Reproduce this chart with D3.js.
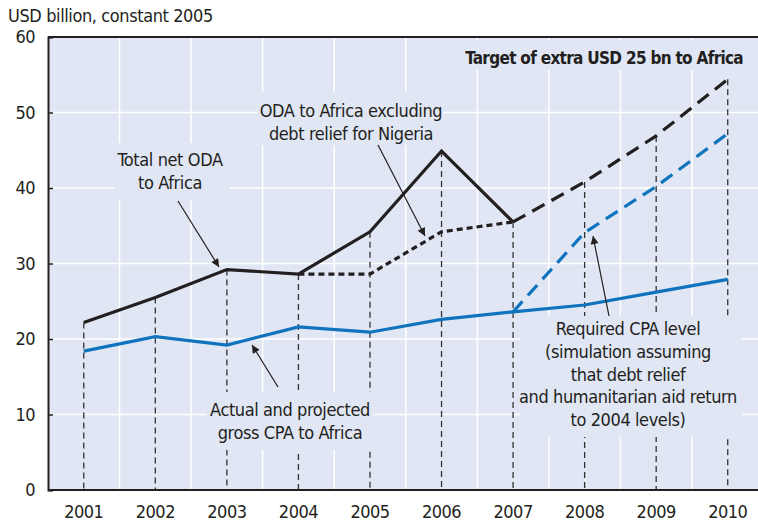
<!DOCTYPE html>
<html>
<head>
<meta charset="utf-8">
<script src="https://cdn.jsdelivr.net/npm/d3@7"></script>
<style>
    body { margin: 0; background: #fff; }
    svg text { font-family: "DejaVu Sans Condensed", "Liberation Sans Narrow", sans-serif; fill: #231f20; letter-spacing: -0.4px; }
</style>
</head>
<body>
<div id="chart"></div>
<script>
const years = [2001, 2002, 2003, 2004, 2005, 2006, 2007, 2008, 2009, 2010];
const yTicks = [0, 10, 20, 30, 40, 50, 60];

// Total net ODA to Africa (actual), then the target path
const totalOda = [22.2, 25.5, 29.2, 28.6, 34.2, 44.9, 35.5];
const targetOda = [35.5, 40.8, 46.9, 54.4];
// ODA excluding debt relief for Nigeria (2004-2007)
const odaExNigeria = [28.6, 28.6, 34.2, 35.5];
// Actual and projected gross CPA
const cpa = [18.4, 20.3, 19.2, 21.6, 20.9, 22.6, 23.6, 24.5, 26.2, 27.9];
// Required CPA level (2007-2010)
const requiredCpa = [23.6, 34.1, 40.2, 47.2];

const width = 758, height = 521,
    margin = { top: 37, left: 48, bottom: 31 },
    bg = "#e0e6f4", ink = "#231f20", blue = "#0f73bd";

const svg = d3.select("#chart").append("svg")
    .attr("width", width).attr("height", height);

const x = d3.scaleBand().domain(years).range([margin.left, margin.left + 71.55 * years.length]).padding(0),
    y = d3.scaleLinear().domain([0, 60]).range([height - margin.bottom, margin.top]);
const cx = d => x(d) + x.bandwidth() / 2;

// plot background
svg.append("rect")
    .attr("x", margin.left).attr("y", margin.top)
    .attr("width", width - margin.left).attr("height", y(0) - margin.top)
    .attr("fill", bg);

// white grid
const grid = svg.append("g").attr("stroke", "#fff").attr("stroke-width", 1.5);
grid.selectAll(".h").data(yTicks.slice(1, -1)).enter().append("line")
    .attr("x1", margin.left).attr("x2", width)
    .attr("y1", d => y(d)).attr("y2", d => y(d));
grid.selectAll(".v").data(years.slice(1)).enter().append("line")
    .attr("x1", d => x(d)).attr("x2", d => x(d))
    .attr("y1", margin.top).attr("y2", y(0));

// drop lines from the top series
const tops = years.map((yr, i) => i < 7 ? totalOda[i] : targetOda[i - 6]);
svg.append("g").selectAll("line").data(years).enter().append("line")
    .attr("x1", d => cx(d)).attr("x2", d => cx(d))
    .attr("y1", (d, i) => y(tops[i])).attr("y2", y(0))
    .attr("stroke", "#333").attr("stroke-width", 1.3)
    .attr("stroke-dasharray", "6,4");

// label boxes cover grid and drop lines
const boxes = [
    { x: 115, y: 143, w: 115, h: 57 },
    { x: 257, y: 92, w: 186, h: 53 },
    { x: 207, y: 392, w: 166, h: 58 },
    { x: 520, y: 316, w: 222, h: 121 },
    { x: 462, y: 40, w: 290, h: 30 }
];
svg.append("g").selectAll("rect").data(boxes).enter().append("rect")
    .attr("x", d => d.x).attr("y", d => d.y)
    .attr("width", d => d.w).attr("height", d => d.h)
    .attr("fill", bg);

const line = d3.line().x(d => cx(d[0])).y(d => y(d[1]));

function series(yrs, vals, color, dash) {
    svg.append("path")
        .datum(yrs.map((yr, i) => [yr, vals[i]]))
        .attr("d", line)
        .attr("fill", "none")
        .attr("stroke", color)
        .attr("stroke-width", 3.2)
        .attr("stroke-dasharray", dash);
}
series(years, cpa, blue, null);
series(years.slice(6), requiredCpa, blue, "14,8");
series(years.slice(3, 7), odaExNigeria, ink, "6,4");
series(years.slice(6), targetOda, ink, "14,8");
series(years.slice(0, 7), totalOda, ink, null);

// axes frame
svg.append("line").attr("x1", margin.left).attr("x2", width)
    .attr("y1", margin.top).attr("y2", margin.top)
    .attr("stroke", ink).attr("stroke-width", 2);
svg.append("line").attr("x1", margin.left).attr("x2", width)
    .attr("y1", y(0)).attr("y2", y(0))
    .attr("stroke", ink).attr("stroke-width", 2);

const yAxis = svg.append("g")
    .attr("transform", "translate(" + margin.left + ",0)")
    .call(d3.axisLeft(y).tickValues(yTicks).tickSize(-5).tickPadding(13));
yAxis.select(".domain").attr("stroke", ink).attr("stroke-width", 2);
yAxis.selectAll(".tick line").attr("stroke", ink).attr("stroke-width", 1.5);
yAxis.selectAll("text").attr("font-size", 18).attr("fill", ink)
    .style("font-family", "'DejaVu Sans Condensed', sans-serif").style("letter-spacing", "-0.5px");

const xAxis = svg.append("g")
    .attr("transform", "translate(0," + y(0) + ")")
    .call(d3.axisBottom(x).tickSize(0).tickPadding(15));
xAxis.select(".domain").remove();
xAxis.selectAll("text").attr("font-size", 18).attr("fill", ink)
    .style("font-family", "'DejaVu Sans Condensed', sans-serif").style("letter-spacing", "-0.5px");

// unit label
svg.append("text").attr("x", 8).attr("y", 22)
    .attr("font-size", 18).text("USD billion, constant 2005");

// annotations
const notes = [
    { x: 170, y: 166, lines: ["Total net ODA", "to Africa"] },
    { x: 351, y: 117, lines: ["ODA to Africa excluding", "debt relief for Nigeria"] },
    { x: 290, y: 416, lines: ["Actual and projected", "gross CPA to Africa"] },
    { x: 628, y: 335, lines: ["Required CPA level", "(simulation assuming", "that debt relief", "and humanitarian aid return", "to 2004 levels)"] }
];
notes.forEach(n => {
    const t = svg.append("text").attr("text-anchor", "middle").attr("font-size", 18);
    n.lines.forEach((l, i) => t.append("tspan").attr("x", n.x).attr("y", n.y + i * 22.8).text(l));
});
svg.append("text").attr("x", 743).attr("y", 64).attr("text-anchor", "end")
    .attr("font-size", 17).attr("font-weight", "bold").style("letter-spacing", "-0.7px")
    .text("Target of extra USD 25 bn to Africa");

// arrows
svg.append("defs").append("marker")
    .attr("id", "head").attr("viewBox", "0 0 10 10")
    .attr("refX", 10).attr("refY", 5)
    .attr("markerWidth", 10).attr("markerHeight", 8)
    .attr("markerUnits", "userSpaceOnUse")
    .attr("orient", "auto")
    .append("path").attr("d", "M0,0L10,5L0,10z").attr("fill", ink);
const arrows = [
    [178, 201, 219, 267],
    [378, 145, 425, 236],
    [278, 387, 252, 345],
    [609, 316, 593, 236]
];
svg.append("g").selectAll("line").data(arrows).enter().append("line")
    .attr("x1", d => d[0]).attr("y1", d => d[1])
    .attr("x2", d => d[2]).attr("y2", d => d[3])
    .attr("stroke", ink).attr("stroke-width", 1.2)
    .attr("marker-end", "url(#head)");
</script>
</body>
</html>
